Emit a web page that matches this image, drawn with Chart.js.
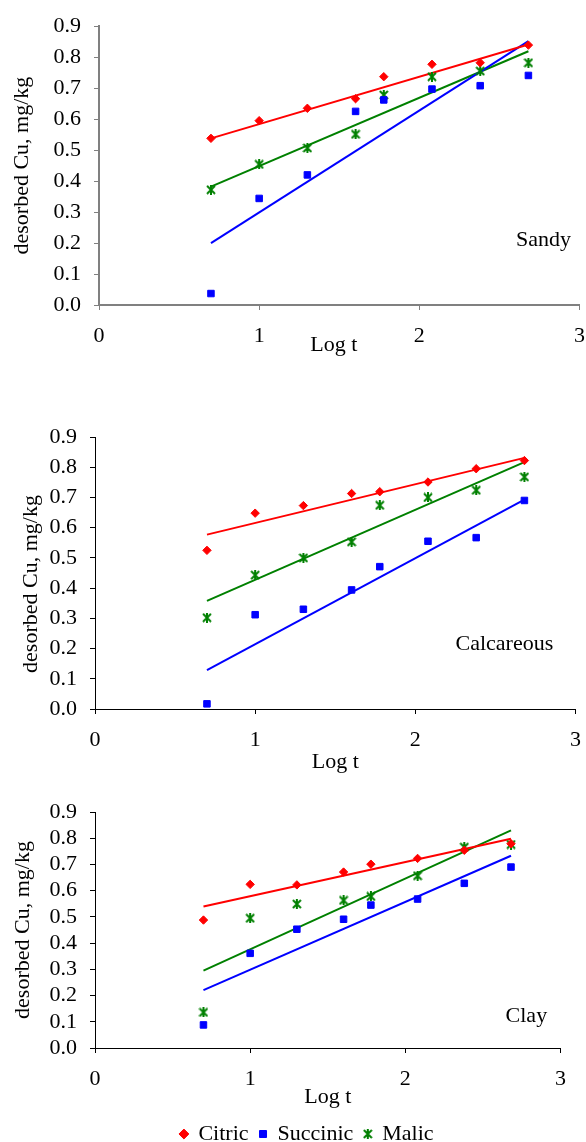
<!DOCTYPE html>
<html>
<head>
<meta charset="utf-8">
<script src="https://cdn.jsdelivr.net/npm/chart.js@4.4.0/dist/chart.umd.min.js"></script>
<style>
html, body { margin: 0; padding: 0; background: #fff; width: 586px; height: 1142px; overflow: hidden; }
.panel { position: absolute; left: 0; }
</style>
</head>
<body>
<div class="panel" style="top:0px;width:598px;height:358px"><canvas id="c1"></canvas></div>
<div class="panel" style="top:380px;width:594px;height:395px"><canvas id="c2"></canvas></div>
<div class="panel" style="top:775px;width:579px;height:380px"><canvas id="c3"></canvas></div>
<script>
// ---------- data ----------
const logT = [0.699, 1.000, 1.301, 1.602, 1.778, 2.079, 2.380, 2.681];
const trendLogT = [0.699, 2.681];
const seriesNames = ['Citric', 'Succinic', 'Malic'];
const xTickValues = [0, 1, 2, 3];
const yTickValues = [0.0, 0.1, 0.2, 0.3, 0.4, 0.5, 0.6, 0.7, 0.8, 0.9];
const soilNames = ['Sandy', 'Calcareous', 'Clay'];

const sandyCitric   = [0.538, 0.595, 0.635, 0.666, 0.737, 0.777, 0.782, 0.839];
const sandySuccinic = [0.037, 0.344, 0.420, 0.625, 0.662, 0.697, 0.708, 0.741];
const sandyMalic    = [0.372, 0.454, 0.507, 0.551, 0.678, 0.737, 0.755, 0.782];
const sandyCitricTrend   = [0.538, 0.841];
const sandySuccinicTrend = [0.200, 0.852];
const sandyMalicTrend    = [0.382, 0.819];

const calcCitric   = [0.525, 0.648, 0.673, 0.713, 0.719, 0.751, 0.795, 0.822];
const calcSuccinic = [0.017, 0.312, 0.330, 0.394, 0.471, 0.555, 0.567, 0.690];
const calcMalic    = [0.302, 0.443, 0.500, 0.553, 0.674, 0.700, 0.724, 0.768];
const calcCitricTrend   = [0.577, 0.831];
const calcSuccinicTrend = [0.129, 0.693];
const calcMalicTrend    = [0.358, 0.817];

const clayCitric   = [0.488, 0.624, 0.622, 0.671, 0.701, 0.723, 0.754, 0.779];
const claySuccinic = [0.088, 0.361, 0.453, 0.491, 0.545, 0.568, 0.628, 0.690];
const clayMalic    = [0.136, 0.495, 0.549, 0.563, 0.578, 0.657, 0.766, 0.776];
const clayCitricTrend   = [0.540, 0.798];
const claySuccinicTrend = [0.221, 0.733];
const clayMalicTrend    = [0.295, 0.830];

// ---------- styling ----------
const RED = '#ff0000', BLUE = '#0000ff', GREEN = '#008000';
const FONT = "'Liberation Serif', 'Times New Roman', serif";
const FS = 22;
Chart.defaults.font.family = FONT;
Chart.defaults.font.size = FS;
Chart.defaults.color = '#000';

function makeStar(color) {
  const c = document.createElement('canvas');
  c.width = 10; c.height = 10;
  const g = c.getContext('2d');
  g.strokeStyle = color; g.lineWidth = 2;
  g.beginPath();
  g.moveTo(1, 1); g.lineTo(9, 9);
  g.moveTo(9, 1); g.lineTo(1, 9);
  g.moveTo(5, 0); g.lineTo(5, 10);
  g.stroke();
  return c;
}
const starImg = makeStar(GREEN);

function pts(xs, ys) { return ys.map((y, i) => ({ x: xs[i], y: y })); }

const labelPlugin = {
  id: 'soilLabel',
  afterDatasetsDraw(chart, args, opts) {
    if (!opts || !opts.text) return;
    const { ctx, scales } = chart;
    ctx.save();
    ctx.font = opts.size + 'px ' + FONT;
    ctx.fillStyle = '#000';
    ctx.textAlign = 'center';
    ctx.textBaseline = 'middle';
    ctx.fillText(opts.text, scales.x.getPixelForValue(opts.x), scales.y.getPixelForValue(opts.y));
    ctx.restore();
  }
};

function makePanel(id, s) {
  const datasets = [
    { label: seriesNames[0], data: pts(logT, s.citric), pointStyle: 'rectRot', pointRadius: 4.2,
      backgroundColor: RED, borderColor: RED, pointBorderWidth: 1, showLine: false },
    { label: seriesNames[1], data: pts(logT, s.succinic), pointStyle: 'rect', pointRadius: 4.6,
      backgroundColor: BLUE, borderColor: BLUE, pointBorderWidth: 1, showLine: false },
    { label: seriesNames[2], data: pts(logT, s.malic), pointStyle: starImg, pointRadius: 5,
      backgroundColor: GREEN, borderColor: GREEN, pointBorderWidth: 0, showLine: false },
    { label: 'trend1', data: pts(trendLogT, s.citricTrend), showLine: true, pointRadius: 0,
      borderColor: RED, borderWidth: 2, backgroundColor: RED },
    { label: 'trend2', data: pts(trendLogT, s.succinicTrend), showLine: true, pointRadius: 0,
      borderColor: BLUE, borderWidth: 2, backgroundColor: BLUE },
    { label: 'trend3', data: pts(trendLogT, s.malicTrend), showLine: true, pointRadius: 0,
      borderColor: GREEN, borderWidth: 2, backgroundColor: GREEN }
  ];
  return new Chart(document.getElementById(id), {
    type: 'scatter',
    data: { datasets },
    plugins: [labelPlugin],
    options: {
      responsive: true, maintainAspectRatio: false, animation: false,
      events: [],
      layout: { padding: { top: s.padTop, right: s.padRight, bottom: 0, left: s.padLeft } },
      plugins: {
        tooltip: { enabled: false },
        soilLabel: { text: s.name, x: s.nameX, y: s.nameY, size: FS },
        legend: {
          display: s.legend,
          position: 'bottom',
          labels: {
            usePointStyle: true, boxWidth: 7, boxHeight: 7, padding: 11,
            color: '#000', font: { size: FS },
            filter: (item) => item.datasetIndex < 3
          }
        }
      },
      scales: {
        x: {
          type: 'linear', min: 0, max: 3,
          afterBuildTicks: (sc) => { sc.ticks = xTickValues.map(v => ({ value: v })); },
          afterFit: (sc) => { sc.height = s.xH; },
          ticks: { padding: 13, color: '#000', font: { size: FS }, maxRotation: 0, autoSkip: false,
                   callback: (v) => String(v) },
          grid: { drawOnChartArea: false, drawTicks: true, tickLength: 5, color: s.axisColor, lineWidth: 1 },
          border: { display: true, color: s.axisColor, width: s.axisW },
          title: { display: true, text: s.xTitle, color: '#000', font: { size: FS },
                   padding: { top: 0, bottom: s.xTitlePad } }
        },
        y: {
          type: 'linear', min: 0, max: 0.9,
          afterBuildTicks: (sc) => { sc.ticks = yTickValues.map(v => ({ value: v })); },
          afterFit: (sc) => { sc.width = s.yW; },
          ticks: { padding: 13, color: '#000', font: { size: FS }, autoSkip: false,
                   callback: (v) => Number(v).toFixed(1) },
          grid: { drawOnChartArea: false, drawTicks: true, tickLength: 5, color: s.axisColor, lineWidth: 1 },
          border: { display: true, color: s.axisColor, width: s.axisW },
          title: { display: true, text: s.yTitle, color: '#000', font: { size: FS },
                   padding: { top: s.yTitlePad, bottom: 0 } }
        }
      }
    }
  });
}

makePanel('c1', {
  name: soilNames[0], nameX: 2.775, nameY: 0.208,
  citric: sandyCitric, succinic: sandySuccinic, malic: sandyMalic,
  citricTrend: sandyCitricTrend, succinicTrend: sandySuccinicTrend, malicTrend: sandyMalicTrend,
  padTop: 24, padRight: 0, padLeft: 0, yW: 99, xH: 53, xTitlePad: 0,
  xTitle: 'Log t  ',
  yTitle: 'desorbed Cu, mg/kg', yTitlePad: 8.8,
  axisColor: '#808080', axisW: 2, legend: false
});
makePanel('c2', {
  name: soilNames[1], nameX: 2.556, nameY: 0.215,
  citric: calcCitric, succinic: calcSuccinic, malic: calcMalic,
  citricTrend: calcCitricTrend, succinicTrend: calcSuccinicTrend, malicTrend: calcMalicTrend,
  padTop: 57, padRight: 0, padLeft: 0, yW: 95, xH: 66, xTitlePad: 0,
  xTitle: 'Log t',
  yTitle: 'desorbed Cu, mg/kg    ', yTitlePad: 17.8,
  axisColor: '#000000', axisW: 1, legend: false
});
makePanel('c3', {
  name: soilNames[2], nameX: 2.78, nameY: 0.122,
  citric: clayCitric, succinic: claySuccinic, malic: clayMalic,
  citricTrend: clayCitricTrend, succinicTrend: claySuccinicTrend, malicTrend: clayMalicTrend,
  padTop: 37, padRight: 13, padLeft: 48, yW: 47, xH: 64, xTitlePad: 2,
  xTitle: 'Log t',
  yTitle: 'desorbed Cu, mg/kg', yTitlePad: -37.7,
  axisColor: '#000000', axisW: 1, legend: true
});
</script>
</body>
</html>
